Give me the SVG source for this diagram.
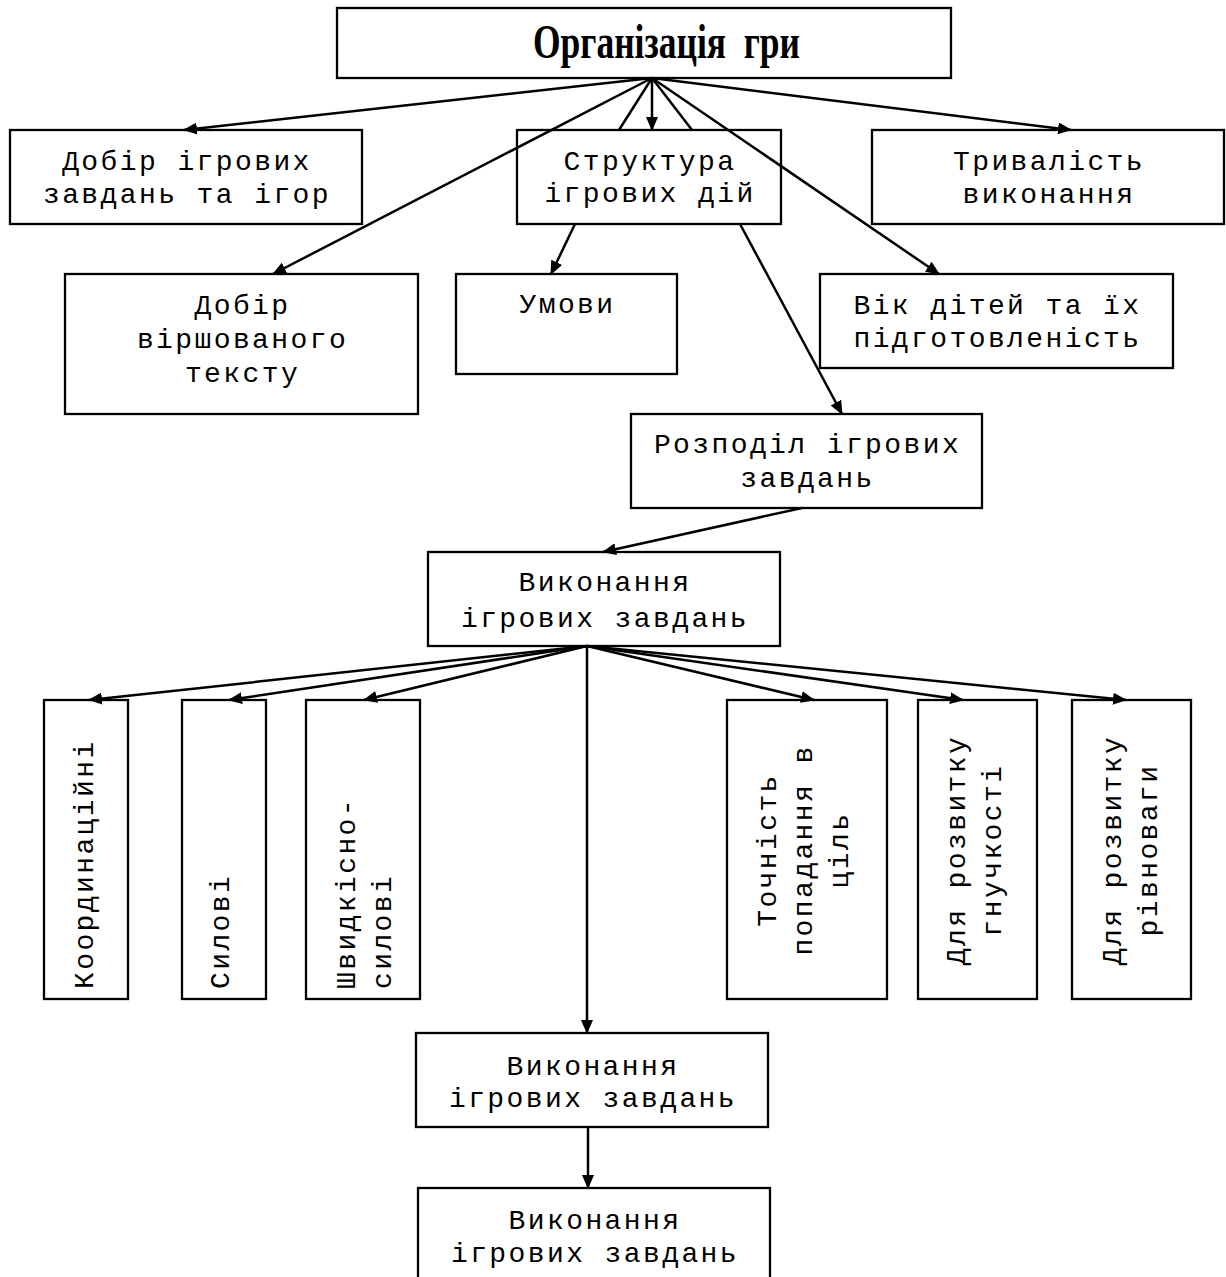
<svg xmlns="http://www.w3.org/2000/svg" width="1226" height="1277" viewBox="0 0 1226 1277">
<style>
.box{fill:#fff;stroke:#000;stroke-width:2.3}
.t{font-family:"Liberation Mono","DejaVu Sans Mono",monospace;font-size:28px;letter-spacing:2.4px;fill:#000;text-anchor:middle}
.ts{font-family:"Liberation Mono","DejaVu Sans Mono",monospace;font-size:28px;letter-spacing:2.4px;fill:#000;text-anchor:start}
.title{font-family:"Liberation Serif","Times New Roman",serif;font-weight:bold;font-size:48px;fill:#000;text-anchor:middle;white-space:pre}
.c line{stroke:#000;stroke-width:2.5;fill:none}
.c line.a{marker-end:url(#ah)}
</style>
<defs>
<marker id="ah" viewBox="0 0 14 12" refX="13" refY="6" markerWidth="14" markerHeight="12" markerUnits="userSpaceOnUse" orient="auto">
<path d="M0,0 L14,6 L0,12 z" fill="#000"/>
</marker>
</defs>
<rect width="1226" height="1277" fill="#fff"/>

<g id="n-org"><rect class="box" x="337" y="8" width="614" height="70"/>
<text class="title" x="666.5" y="58" textLength="267" lengthAdjust="spacingAndGlyphs" xml:space="preserve">Організація  гри</text></g>

<g id="n-dobir-igr"><rect class="box" x="10" y="130" width="352" height="94"/>
<text class="t" x="187" y="170">Добір ігрових</text><text class="t" x="187" y="203">завдань та ігор</text></g>

<g id="n-struktura"><rect class="box" x="517" y="130" width="264" height="94"/>
<text class="t" x="650" y="170">Структура</text><text class="t" x="650" y="202">ігрових дій</text></g>

<g id="n-tryvalist"><rect class="box" x="872" y="130" width="352" height="94"/>
<text class="t" x="1049" y="170">Тривалість</text><text class="t" x="1049" y="203">виконання</text></g>

<g id="n-virsh"><rect class="box" x="65" y="274" width="353" height="140"/>
<text class="t" x="242.5" y="314">Добір</text><text class="t" x="242.5" y="348">віршованого</text><text class="t" x="242.5" y="382">тексту</text></g>

<g id="n-umovy"><rect class="box" x="456" y="274" width="221" height="100"/>
<text class="t" x="567.5" y="313">Умови</text></g>

<g id="n-vik"><rect class="box" x="820" y="274" width="353" height="94"/>
<text class="t" x="997.5" y="314">Вік дітей та їх</text><text class="t" x="997.5" y="347">підготовленість</text></g>

<g id="n-rozpodil"><rect class="box" x="631" y="414" width="351" height="94"/>
<text class="t" x="807.5" y="453">Розподіл ігрових</text><text class="t" x="807.5" y="487">завдань</text></g>

<g id="n-vyk1"><rect class="box" x="428" y="552" width="352" height="94"/>
<text class="t" x="605" y="591">Виконання</text><text class="t" x="605" y="627">ігрових завдань</text></g>

<g id="n-koord"><rect class="box" x="44" y="700" width="84" height="299"/>
<text class="ts" transform="translate(93,989) rotate(-90)">Координаційні</text></g>

<g id="n-sylovi"><rect class="box" x="182" y="700" width="84" height="299"/>
<text class="ts" transform="translate(229,989) rotate(-90)">Силові</text></g>

<g id="n-shvydk"><rect class="box" x="306" y="700" width="114" height="299"/>
<text class="ts" transform="translate(355,989) rotate(-90)">Швидкісно-</text>
<text class="ts" transform="translate(391,989) rotate(-90)">силові</text></g>

<g id="n-tochnist"><rect class="box" x="727" y="700" width="160" height="299"/>
<text class="t" transform="translate(776,850) rotate(-90)">Точність</text>
<text class="t" transform="translate(812,850) rotate(-90)">попадання в</text>
<text class="t" transform="translate(848,850) rotate(-90)">ціль</text></g>

<g id="n-gnuch"><rect class="box" x="918" y="700" width="119" height="299"/>
<text class="t" transform="translate(965,850) rotate(-90)">Для розвитку</text>
<text class="t" transform="translate(1001,850) rotate(-90)">гнучкості</text></g>

<g id="n-rivn"><rect class="box" x="1072" y="700" width="119" height="299"/>
<text class="t" transform="translate(1121,850) rotate(-90)">Для розвитку</text>
<text class="t" transform="translate(1157,850) rotate(-90)">рівноваги</text></g>

<g id="n-vyk2"><rect class="box" x="416" y="1033" width="352" height="94"/>
<text class="t" x="593" y="1075">Виконання</text><text class="t" x="593" y="1107">ігрових завдань</text></g>

<g id="n-vyk3"><rect class="box" x="418" y="1188" width="352" height="110"/>
<text class="t" x="595" y="1229">Виконання</text><text class="t" x="595" y="1262">ігрових завдань</text></g>

<g id="connectors" class="c">
<line class="a" x1="652" y1="78" x2="184" y2="130"/>
<line class="a" x1="652" y1="78" x2="273" y2="274"/>
<line x1="652" y1="78" x2="619" y2="130"/>
<line class="a" x1="652" y1="78" x2="652" y2="130"/>
<line x1="652" y1="78" x2="692" y2="130"/>
<line class="a" x1="652" y1="78" x2="939" y2="274"/>
<line class="a" x1="652" y1="78" x2="1071" y2="130"/>
<line class="a" x1="575" y1="224" x2="551" y2="274"/>
<line class="a" x1="740" y1="224" x2="842" y2="414"/>
<line class="a" x1="802" y1="508" x2="603" y2="552"/>
<line class="a" x1="587" y1="646" x2="89" y2="700"/>
<line class="a" x1="587" y1="646" x2="229" y2="700"/>
<line class="a" x1="587" y1="646" x2="364" y2="700"/>
<line class="a" x1="587" y1="646" x2="587" y2="1033"/>
<line class="a" x1="587" y1="646" x2="814" y2="700"/>
<line class="a" x1="587" y1="646" x2="963" y2="700"/>
<line class="a" x1="587" y1="646" x2="1126" y2="700"/>
<line class="a" x1="588" y1="1127" x2="588" y2="1188"/>
</g>
</svg>
